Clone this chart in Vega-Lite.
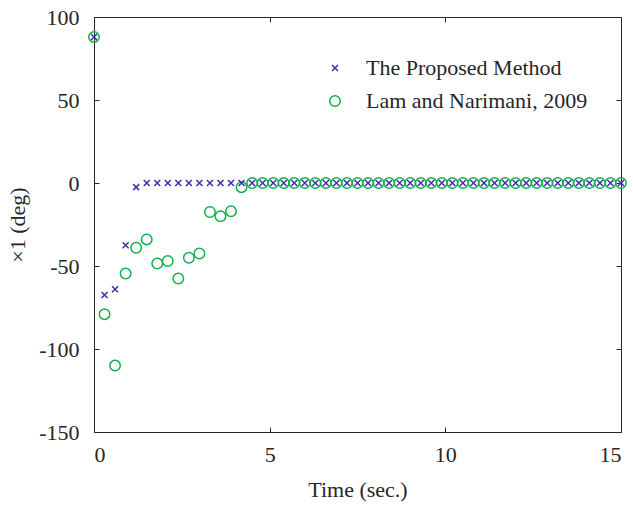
{
  "$schema": "https://vega.github.io/schema/vega-lite/v6.json",
  "autosize": {"type": "none"},
  "padding": {"left": 94, "top": 17, "right": 12, "bottom": 73},
  "width": 527,
  "height": 415,
  "background": "white",
  "config": {
    "view": {"stroke": "#262626", "strokeWidth": 1},
    "font": "Liberation Serif"
  },
  "data": {"values": [
    {"t": 0, "v": 88, "s": "Lam and Narimani, 2009"},
    {"t": 0.3, "v": -79, "s": "Lam and Narimani, 2009"},
    {"t": 0.6, "v": -110, "s": "Lam and Narimani, 2009"},
    {"t": 0.9, "v": -54.5, "s": "Lam and Narimani, 2009"},
    {"t": 1.2, "v": -39, "s": "Lam and Narimani, 2009"},
    {"t": 1.5, "v": -34, "s": "Lam and Narimani, 2009"},
    {"t": 1.8, "v": -48.5, "s": "Lam and Narimani, 2009"},
    {"t": 2.1, "v": -47, "s": "Lam and Narimani, 2009"},
    {"t": 2.4, "v": -57.5, "s": "Lam and Narimani, 2009"},
    {"t": 2.7, "v": -45, "s": "Lam and Narimani, 2009"},
    {"t": 3.0, "v": -42.5, "s": "Lam and Narimani, 2009"},
    {"t": 3.3, "v": -17.5, "s": "Lam and Narimani, 2009"},
    {"t": 3.6, "v": -20, "s": "Lam and Narimani, 2009"},
    {"t": 3.9, "v": -17, "s": "Lam and Narimani, 2009"},
    {"t": 4.2, "v": -2.5, "s": "Lam and Narimani, 2009"},
    {"t": 4.5, "v": 0, "s": "Lam and Narimani, 2009"},
    {"t": 4.8, "v": 0, "s": "Lam and Narimani, 2009"},
    {"t": 5.1, "v": 0, "s": "Lam and Narimani, 2009"},
    {"t": 5.4, "v": 0, "s": "Lam and Narimani, 2009"},
    {"t": 5.7, "v": 0, "s": "Lam and Narimani, 2009"},
    {"t": 6.0, "v": 0, "s": "Lam and Narimani, 2009"},
    {"t": 6.3, "v": 0, "s": "Lam and Narimani, 2009"},
    {"t": 6.6, "v": 0, "s": "Lam and Narimani, 2009"},
    {"t": 6.9, "v": 0, "s": "Lam and Narimani, 2009"},
    {"t": 7.2, "v": 0, "s": "Lam and Narimani, 2009"},
    {"t": 7.5, "v": 0, "s": "Lam and Narimani, 2009"},
    {"t": 7.8, "v": 0, "s": "Lam and Narimani, 2009"},
    {"t": 8.1, "v": 0, "s": "Lam and Narimani, 2009"},
    {"t": 8.4, "v": 0, "s": "Lam and Narimani, 2009"},
    {"t": 8.7, "v": 0, "s": "Lam and Narimani, 2009"},
    {"t": 9.0, "v": 0, "s": "Lam and Narimani, 2009"},
    {"t": 9.3, "v": 0, "s": "Lam and Narimani, 2009"},
    {"t": 9.6, "v": 0, "s": "Lam and Narimani, 2009"},
    {"t": 9.9, "v": 0, "s": "Lam and Narimani, 2009"},
    {"t": 10.2, "v": 0, "s": "Lam and Narimani, 2009"},
    {"t": 10.5, "v": 0, "s": "Lam and Narimani, 2009"},
    {"t": 10.8, "v": 0, "s": "Lam and Narimani, 2009"},
    {"t": 11.1, "v": 0, "s": "Lam and Narimani, 2009"},
    {"t": 11.4, "v": 0, "s": "Lam and Narimani, 2009"},
    {"t": 11.7, "v": 0, "s": "Lam and Narimani, 2009"},
    {"t": 12.0, "v": 0, "s": "Lam and Narimani, 2009"},
    {"t": 12.3, "v": 0, "s": "Lam and Narimani, 2009"},
    {"t": 12.6, "v": 0, "s": "Lam and Narimani, 2009"},
    {"t": 12.9, "v": 0, "s": "Lam and Narimani, 2009"},
    {"t": 13.2, "v": 0, "s": "Lam and Narimani, 2009"},
    {"t": 13.5, "v": 0, "s": "Lam and Narimani, 2009"},
    {"t": 13.8, "v": 0, "s": "Lam and Narimani, 2009"},
    {"t": 14.1, "v": 0, "s": "Lam and Narimani, 2009"},
    {"t": 14.4, "v": 0, "s": "Lam and Narimani, 2009"},
    {"t": 14.7, "v": 0, "s": "Lam and Narimani, 2009"},
    {"t": 15.0, "v": 0, "s": "Lam and Narimani, 2009"},
    {"t": 0, "v": 88, "s": "The Proposed Method"},
    {"t": 0.3, "v": -67.5, "s": "The Proposed Method"},
    {"t": 0.6, "v": -64, "s": "The Proposed Method"},
    {"t": 0.9, "v": -37.5, "s": "The Proposed Method"},
    {"t": 1.2, "v": -2.5, "s": "The Proposed Method"},
    {"t": 1.5, "v": 0, "s": "The Proposed Method"},
    {"t": 1.8, "v": 0, "s": "The Proposed Method"},
    {"t": 2.1, "v": 0, "s": "The Proposed Method"},
    {"t": 2.4, "v": 0, "s": "The Proposed Method"},
    {"t": 2.7, "v": 0, "s": "The Proposed Method"},
    {"t": 3.0, "v": 0, "s": "The Proposed Method"},
    {"t": 3.3, "v": 0, "s": "The Proposed Method"},
    {"t": 3.6, "v": 0, "s": "The Proposed Method"},
    {"t": 3.9, "v": 0, "s": "The Proposed Method"},
    {"t": 4.2, "v": 0, "s": "The Proposed Method"},
    {"t": 4.5, "v": 0, "s": "The Proposed Method"},
    {"t": 4.8, "v": 0, "s": "The Proposed Method"},
    {"t": 5.1, "v": 0, "s": "The Proposed Method"},
    {"t": 5.4, "v": 0, "s": "The Proposed Method"},
    {"t": 5.7, "v": 0, "s": "The Proposed Method"},
    {"t": 6.0, "v": 0, "s": "The Proposed Method"},
    {"t": 6.3, "v": 0, "s": "The Proposed Method"},
    {"t": 6.6, "v": 0, "s": "The Proposed Method"},
    {"t": 6.9, "v": 0, "s": "The Proposed Method"},
    {"t": 7.2, "v": 0, "s": "The Proposed Method"},
    {"t": 7.5, "v": 0, "s": "The Proposed Method"},
    {"t": 7.8, "v": 0, "s": "The Proposed Method"},
    {"t": 8.1, "v": 0, "s": "The Proposed Method"},
    {"t": 8.4, "v": 0, "s": "The Proposed Method"},
    {"t": 8.7, "v": 0, "s": "The Proposed Method"},
    {"t": 9.0, "v": 0, "s": "The Proposed Method"},
    {"t": 9.3, "v": 0, "s": "The Proposed Method"},
    {"t": 9.6, "v": 0, "s": "The Proposed Method"},
    {"t": 9.9, "v": 0, "s": "The Proposed Method"},
    {"t": 10.2, "v": 0, "s": "The Proposed Method"},
    {"t": 10.5, "v": 0, "s": "The Proposed Method"},
    {"t": 10.8, "v": 0, "s": "The Proposed Method"},
    {"t": 11.1, "v": 0, "s": "The Proposed Method"},
    {"t": 11.4, "v": 0, "s": "The Proposed Method"},
    {"t": 11.7, "v": 0, "s": "The Proposed Method"},
    {"t": 12.0, "v": 0, "s": "The Proposed Method"},
    {"t": 12.3, "v": 0, "s": "The Proposed Method"},
    {"t": 12.6, "v": 0, "s": "The Proposed Method"},
    {"t": 12.9, "v": 0, "s": "The Proposed Method"},
    {"t": 13.2, "v": 0, "s": "The Proposed Method"},
    {"t": 13.5, "v": 0, "s": "The Proposed Method"},
    {"t": 13.8, "v": 0, "s": "The Proposed Method"},
    {"t": 14.1, "v": 0, "s": "The Proposed Method"},
    {"t": 14.4, "v": 0, "s": "The Proposed Method"},
    {"t": 14.7, "v": 0, "s": "The Proposed Method"},
    {"t": 15.0, "v": 0, "s": "The Proposed Method"}
  ]},
  "layer": [
    {
      "mark": {"type": "point", "filled": false, "strokeWidth": 1.5, "opacity": 1, "clip": false},
      "encoding": {
        "x": {"field": "t", "type": "quantitative", "scale": {"domain": [0, 15], "nice": false, "zero": false}, "axis": {"orient": "bottom", "values": [0, 5, 10, 15], "title": "Time (sec.)", "grid": false, "domain": false, "tickColor": "#262626", "tickSize": -5, "labelFont": "Liberation Serif", "labelFontSize": 22, "labelColor": "#262626", "labelPadding": 17, "labelExpr": "datum.value", "titleFont": "Liberation Serif", "titleFontSize": 22, "titleFontWeight": "normal", "titleColor": "#262626", "titlePadding": 14}},
        "y": {"field": "v", "type": "quantitative", "scale": {"domain": [-150, 100], "nice": false}, "axis": {"orient": "left", "values": [-150, -100, -50, 0, 50, 100], "title": "×1 (deg)", "grid": false, "domain": false, "tickColor": "#262626", "tickSize": -5, "labelFont": "Liberation Serif", "labelFontSize": 22, "labelColor": "#262626", "labelPadding": 20, "labelExpr": "datum.value", "titleFont": "Liberation Serif", "titleFontSize": 22, "titleFontWeight": "normal", "titleColor": "#262626", "titlePadding": 9}},
        "color": {"field": "s", "type": "nominal", "scale": {"domain": ["The Proposed Method", "Lam and Narimani, 2009"], "range": ["#3434a4", "#13b04c"]}, "legend": {"title": null, "orient": "none", "legendX": 230, "legendY": 40, "labelFont": "Liberation Serif", "labelFontSize": 22, "labelColor": "#262626", "labelLimit": 400, "labelOffset": 20, "rowPadding": 11, "symbolStrokeWidth": 1.5, "padding": 0}},
        "shape": {"field": "s", "type": "nominal", "scale": {"domain": ["The Proposed Method", "Lam and Narimani, 2009"], "range": ["M-1,-1L1,1M-1,1L1,-1", "circle"]}},
        "size": {"field": "s", "type": "nominal", "scale": {"domain": ["The Proposed Method", "Lam and Narimani, 2009"], "range": [36, 110]}}
      }
    },
    {
      "mark": {"type": "point", "opacity": 0},
      "encoding": {
        "x": {"field": "t", "type": "quantitative", "axis": {"orient": "top", "values": [0, 5, 10, 15], "labels": false, "title": null, "grid": false, "domain": false, "tickColor": "#262626", "tickSize": -5}},
        "y": {"field": "v", "type": "quantitative", "axis": {"orient": "right", "values": [-150, -100, -50, 0, 50, 100], "labels": false, "title": null, "grid": false, "domain": false, "tickColor": "#262626", "tickSize": -5}}
      }
    }
  ],
  "resolve": {"axis": {"x": "independent", "y": "independent"}}
}
